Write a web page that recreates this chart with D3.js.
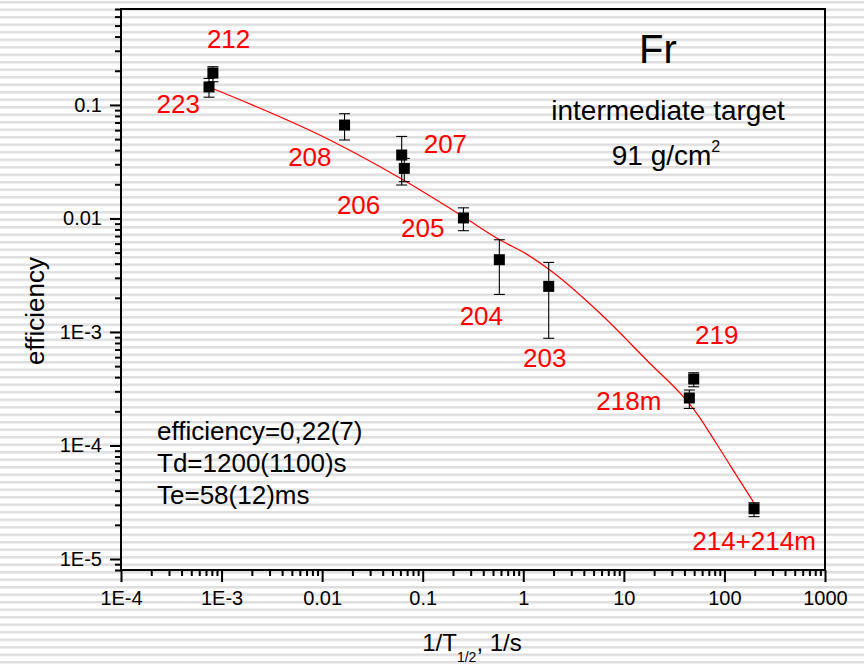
<!DOCTYPE html>
<html>
<head>
<meta charset="utf-8">
<script src="https://cdn.jsdelivr.net/npm/d3@7"></script>
<style>
  html, body { margin: 0; padding: 0; background: #fff; }
  svg { display: block; font-family: "Liberation Sans", Arial, Helvetica, sans-serif; }
</style>
</head>
<body>
<svg id="chart" width="864" height="666"></svg>
<script>
// Measured francium isotopes: release rate 1/T1/2 (1/s) vs. efficiency
const isotopes   = ["223", "212", "208", "207", "206", "205", "204", "203", "219", "218m", "214+214m"];
const rate       = [7.5e-4, 8.2e-4, 0.0167, 0.0618, 0.0656, 0.254, 0.578, 1.79, 49.5, 44.8, 197];
const efficiency = [0.144, 0.191, 0.0665, 0.0362, 0.0276, 0.0101, 0.00433, 0.00252, 3.85e-4, 2.62e-4, 2.77e-5];
const errLow     = [0.117, 0.160, 0.0491, 0.0197, 0.0211, 0.0078, 0.00214, 0.00088, 3.29e-4, 2.12e-4, 2.36e-5];
const errHigh    = [0.171, 0.217, 0.0837, 0.0528, 0.0338, 0.0124, 0.00649, 0.0041, 4.37e-4, 3.08e-4, 3.13e-5];

// Fitted release curve
const fitRate = [7.5e-4, 0.0129, 0.0594, 0.254, 0.588, 1.08, 1.84, 5.79, 18.2, 39.0, 53.0, 83.8, 122, 194];
const fitEff  = [0.144, 0.0474, 0.0227, 0.01035, 0.00646, 0.00485, 0.00351, 0.00146, 5.28e-4, 2.69e-4, 1.92e-4, 1.03e-4, 6.07e-5, 3.19e-5];

// Axis ticks
const xTickValues = [1e-4, 1e-3, 1e-2, 1e-1, 1, 10, 100, 1000];
const xTickLabels = ["1E-4", "1E-3", "0.01", "0.1", "1", "10", "100", "1000"];
const yTickValues = [1e-5, 1e-4, 1e-3, 1e-2, 1e-1];
const yTickLabels = ["1E-5", "1E-4", "1E-3", "0.01", "0.1"];

const fitText = ["efficiency=0,22(7)", "Td=1200(1100)s", "Te=58(12)ms"];

// Label placement relative to each point (pixels)
const labelPlacement = {
  "223":      { dx: -9,  dy: 26, anchor: "end" },
  "212":      { dx: -6,  dy: -25, anchor: "start" },
  "208":      { dx: -13, dy: 41, anchor: "end" },
  "207":      { dx: 22,  dy: -2, anchor: "start" },
  "206":      { dx: -24, dy: 46, anchor: "end" },
  "205":      { dx: -19, dy: 19, anchor: "end" },
  "204":      { dx: -18, dy: 65, anchor: "middle" },
  "203":      { dx: -4,  dy: 81, anchor: "middle" },
  "219":      { dx: 23,  dy: -35, anchor: "middle" },
  "218m":     { dx: -28, dy: 12, anchor: "end" },
  "214+214m": { dx: 0,   dy: 41, anchor: "middle" }
};

const W = 864, H = 666;
const plot = { left: 121, right: 825, top: 9, bottom: 570 };

const svg = d3.select("#chart");

// Striped backdrop
const defs = svg.append("defs");
const pat = defs.append("pattern")
  .attr("id", "stripes")
  .attr("patternUnits", "userSpaceOnUse")
  .attr("x", 0).attr("y", 1)
  .attr("width", W).attr("height", 7.5);
pat.append("rect").attr("width", W).attr("height", 7.5).attr("fill", "#ffffff");
pat.append("rect").attr("width", W).attr("height", 2.5).attr("fill", "#dedede");
svg.append("rect").attr("width", W).attr("height", H).attr("fill", "url(#stripes)");

const x = d3.scaleLog().domain([1e-4, 1000]).range([plot.left, plot.right]);
const y = d3.scaleLog().domain([8e-6, 0.7]).range([plot.bottom, plot.top]);

// Minor tick values (2..9 within each decade)
function minorTicks(lo, hi) {
  const out = [];
  for (let e = Math.floor(Math.log10(lo)); e <= Math.ceil(Math.log10(hi)); e++) {
    for (let m = 2; m <= 9; m++) {
      const v = m * Math.pow(10, e);
      if (v >= lo * 0.999 && v <= hi * 1.001) out.push(v);
    }
  }
  return out;
}

// X axis
const xAxis = d3.axisBottom(x)
  .tickValues(xTickValues)
  .tickFormat((d, i) => xTickLabels[i])
  .tickSize(12).tickPadding(9);
const gx = svg.append("g").attr("transform", `translate(0,${plot.bottom})`).call(xAxis);
gx.select(".domain").remove();
gx.selectAll(".tick line").attr("stroke", "#000").attr("stroke-width", 2);
gx.selectAll(".tick text").attr("font-size", 20).attr("fill", "#000")
  .attr("font-family", "Liberation Sans, Arial, sans-serif");
const gxm = svg.append("g").attr("transform", `translate(0,${plot.bottom})`)
  .call(d3.axisBottom(x).tickValues(minorTicks(1e-4, 1000)).tickSize(6).tickFormat(""));
gxm.select(".domain").remove();
gxm.selectAll(".tick line").attr("stroke", "#000").attr("stroke-width", 2);

// Y axis
const yAxis = d3.axisLeft(y)
  .tickValues(yTickValues)
  .tickFormat((d, i) => yTickLabels[i])
  .tickSize(11).tickPadding(8);
const gy = svg.append("g").attr("transform", `translate(${plot.left},0)`).call(yAxis);
gy.select(".domain").remove();
gy.selectAll(".tick line").attr("stroke", "#000").attr("stroke-width", 2);
gy.selectAll(".tick text").attr("font-size", 20).attr("fill", "#000")
  .attr("font-family", "Liberation Sans, Arial, sans-serif");
const gym = svg.append("g").attr("transform", `translate(${plot.left},0)`)
  .call(d3.axisLeft(y).tickValues(minorTicks(8e-6, 0.7)).tickSize(6).tickFormat(""));
gym.select(".domain").remove();
gym.selectAll(".tick line").attr("stroke", "#000").attr("stroke-width", 2);

// Frame
svg.append("rect")
  .attr("x", plot.left).attr("y", plot.top)
  .attr("width", plot.right - plot.left).attr("height", plot.bottom - plot.top)
  .attr("fill", "none").attr("stroke", "#000").attr("stroke-width", 2);

// Fit curve
const fitPts = fitRate.map((r, i) => [x(r), y(fitEff[i])]);
svg.append("path")
  .attr("d", d3.line().curve(d3.curveMonotoneX)(fitPts))
  .attr("fill", "none").attr("stroke", "#ff0000").attr("stroke-width", 1.2);

// Error bars
const pts = rate.map((r, i) => ({ r, e: efficiency[i], lo: errLow[i], hi: errHigh[i], name: isotopes[i] }));
const eb = svg.append("g").attr("stroke", "#000").attr("stroke-width", 1.1);
pts.forEach(p => {
  const cx = x(p.r);
  eb.append("line").attr("x1", cx).attr("x2", cx).attr("y1", y(p.lo)).attr("y2", y(p.hi));
  [p.lo, p.hi].forEach(v => {
    eb.append("line").attr("x1", cx - 5.5).attr("x2", cx + 5.5).attr("y1", y(v)).attr("y2", y(v));
  });
});

// Markers
svg.append("g").selectAll("rect").data(pts).join("rect")
  .attr("x", d => x(d.r) - 5.5).attr("y", d => y(d.e) - 5.5)
  .attr("width", 11).attr("height", 11).attr("fill", "#000");

// Isotope labels
svg.append("g").selectAll("text").data(pts).join("text")
  .attr("x", d => x(d.r) + labelPlacement[d.name].dx)
  .attr("y", d => y(d.e) + labelPlacement[d.name].dy)
  .attr("text-anchor", d => labelPlacement[d.name].anchor)
  .attr("font-size", 26).attr("fill", "#ff0000")
  .text(d => d.name);

// Element and target
svg.append("text").attr("x", 658).attr("y", 63).attr("text-anchor", "middle")
  .attr("font-size", 40).attr("fill", "#000").text("Fr");
svg.append("text").attr("x", 668).attr("y", 120).attr("text-anchor", "middle")
  .attr("font-size", 28).attr("fill", "#000").text("intermediate target");
const dens = svg.append("text").attr("x", 666).attr("y", 165).attr("text-anchor", "middle")
  .attr("font-size", 28).attr("fill", "#000");
dens.append("tspan").text("91 g/cm");
dens.append("tspan").attr("font-size", 16).attr("dy", -13).text("2");

// Fit parameters
svg.append("g").selectAll("text").data(fitText).join("text")
  .attr("x", 157).attr("y", (d, i) => 440 + i * 32)
  .attr("font-size", 26).attr("fill", "#000").text(d => d);

// Axis titles
const xt = svg.append("text").attr("x", 472).attr("y", 651).attr("text-anchor", "middle")
  .attr("font-size", 24).attr("fill", "#000");
xt.append("tspan").text("1/T");
xt.append("tspan").attr("font-size", 14).attr("dy", 11).text("1/2");
xt.append("tspan").attr("dy", -11).text(", 1/s");

svg.append("text")
  .attr("transform", "translate(44,311) rotate(-90)")
  .attr("text-anchor", "middle").attr("font-size", 26).attr("fill", "#000")
  .text("efficiency");
</script>
</body>
</html>
